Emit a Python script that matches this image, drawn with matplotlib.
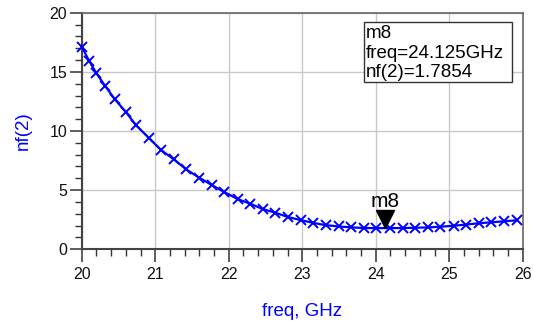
import matplotlib
matplotlib.use("Agg")
import matplotlib.pyplot as plt
from matplotlib.ticker import MultipleLocator
from matplotlib.patches import Rectangle
from matplotlib.transforms import ScaledTranslation

plt.rcParams['font.family'] = ['Liberation Sans', 'DejaVu Sans']

# Data (marker positions along the trace)
freq_ghz = [20.00, 20.10, 20.20, 20.32, 20.45, 20.60, 20.74, 20.91, 21.08, 21.25,
            21.42, 21.60, 21.77, 21.94, 22.12, 22.29, 22.46, 22.63, 22.81, 22.98,
            23.15, 23.32, 23.50, 23.67, 23.84, 24.01, 24.19, 24.37, 24.54, 24.71,
            24.88, 25.06, 25.23, 25.40, 25.57, 25.75, 25.92]
nf2 = [17.13, 15.94, 14.88, 13.80, 12.68, 11.61, 10.48, 9.43, 8.39, 7.62,
       6.76, 6.05, 5.43, 4.84, 4.25, 3.86, 3.41, 3.10, 2.72, 2.47,
       2.23, 2.04, 1.93, 1.85, 1.80, 1.79, 1.79, 1.80, 1.82, 1.85,
       1.91, 1.99, 2.09, 2.20, 2.28, 2.37, 2.45]

marker_name = "m8"
marker_freq = 24.125
marker_val = 1.7854

x_ticks = [20, 21, 22, 23, 24, 25, 26]
y_ticks = [0, 5, 10, 15, 20]

W, H = 533, 324
fig = plt.figure(figsize=(W / 100, H / 100), dpi=100)
ax = fig.add_axes([81.7 / W, 1 - 249.3 / H, (522.7 - 81.7) / W, (249.3 - 12.7) / H])

ax.plot(freq_ghz, nf2, color='#0000ff', lw=1.6, marker='x', ms=6.5, mew=1.4,
        zorder=3, clip_on=False)

ax.set_xlim(20, 26)
ax.set_ylim(0, 20)
ax.set_xticks(x_ticks)
ax.set_yticks(y_ticks)
ax.xaxis.set_minor_locator(MultipleLocator(0.2))
ax.yaxis.set_minor_locator(MultipleLocator(1))
ax.grid(True, which='major', color='#c8c8c8', lw=1.0, zorder=0)

ax.tick_params(axis='both', which='major', direction='out', length=9, width=1.1,
               color='#333333', labelsize=11.5, labelcolor='#111111')
ax.tick_params(axis='both', which='minor', direction='out', length=5, width=1.0,
               color='#333333')
ax.tick_params(axis='x', which='major', pad=4)
ax.tick_params(axis='y', which='major', pad=1.5)

for s in ['left', 'bottom']:
    ax.spines[s].set_color('#444444')
    ax.spines[s].set_linewidth(1.5)
for s in ['top', 'right']:
    ax.spines[s].set_color('#666666')
    ax.spines[s].set_linewidth(1.2)

ax.set_xlabel('freq, GHz', color='#0000ff', fontsize=13.5, labelpad=15)
ax.set_ylabel('nf(2)', color='#0000ff', fontsize=13.5, labelpad=13)

# Marker triangle (tip on the trace) and its name
tri_tr = ax.transData + ScaledTranslation(0, 8.7 / 100, fig.dpi_scale_trans)
ax.plot([marker_freq], [marker_val], marker='v', color='black', ms=12.5,
        linestyle='none', transform=tri_tr, zorder=5, clip_on=False)
lab_tr = ax.transData + ScaledTranslation(0, 26.5 / 100, fig.dpi_scale_trans)
ax.text(marker_freq, marker_val, marker_name, ha='center', va='center',
        fontsize=15, color='black', transform=lab_tr, zorder=6)

# Readout box
fig.patches.append(Rectangle((364.3 / W, 1 - 81.7 / H), (511.7 - 364.3) / W,
                             (81.7 - 21.7) / H, transform=fig.transFigure,
                             facecolor='white', edgecolor='#333333', lw=1.0,
                             zorder=10))
box_lines = [marker_name, f"freq={marker_freq:.3f}GHz", f"nf(2)={marker_val:.4f}"]
baselines = [38.3, 57.7, 76.7]
for txt, by in zip(box_lines, baselines):
    fig.text(365.5 / W, 1 - by / H, txt, ha='left', va='baseline',
             fontsize=13.5, color='black', zorder=11)

fig.savefig('out.png', dpi=100)
